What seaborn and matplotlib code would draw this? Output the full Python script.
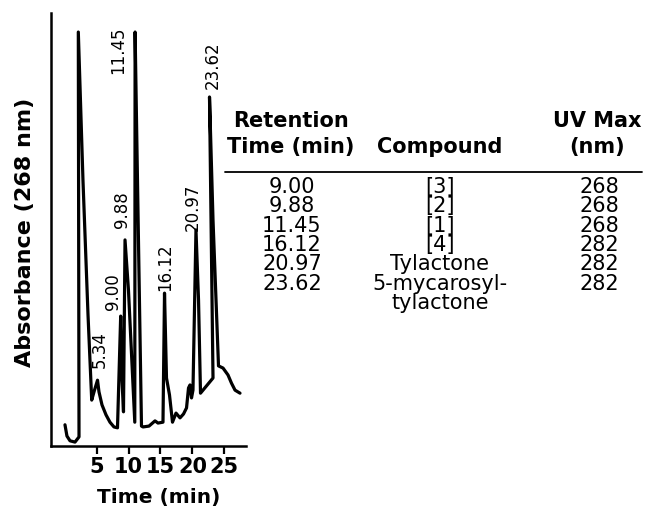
import matplotlib
matplotlib.use('Agg')
import matplotlib.pyplot as plt
from matplotlib.lines import Line2D
import pandas as pd
import seaborn as sns

# HPLC trace (time in min, absorbance in arbitrary units 0-100)
trace_time = [0.03, 0.34, 0.82, 1.60, 2.23, 2.12, 2.85, 3.64, 4.22, 4.58,
              5.13, 5.36, 5.83, 6.46, 7.08, 7.71, 8.26, 8.76, 8.97, 9.20,
              9.44, 9.98, 10.97, 11.02, 11.24, 12.02, 12.26, 13.20, 14.14, 14.61,
              15.39, 15.63, 15.94, 16.41, 16.88, 17.43, 18.06, 18.61, 19.08, 19.39,
              19.62, 19.86, 20.09, 20.56, 20.96, 21.27, 23.23, 22.68, 23.23, 24.09,
              24.80, 25.58, 26.13, 26.68, 27.46]
trace_abs = [4.9, 2.3, 1.2, 0.9, 2.1, 95.6, 61.4, 30.3, 10.6, 12.5,
             15.2, 12.5, 9.5, 7.2, 5.5, 4.4, 4.2, 30.0, 15.2, 7.9,
             47.6, 36.0, 5.5, 95.6, 75.3, 4.6, 4.4, 4.6, 5.8, 5.3,
             5.5, 35.3, 15.7, 11.8, 5.5, 7.6, 6.5, 7.4, 8.8, 13.4,
             14.1, 11.1, 12.9, 49.9, 33.7, 12.2, 15.7, 80.6, 52.2, 18.5,
             18.0, 16.4, 14.5, 12.9, 12.2]

peak_names = ['5.34', '9.00', '9.88', '11.45', '16.12', '20.97', '23.62']

# table
ret_times = ['9.00', '9.88', '11.45', '16.12', '20.97', '23.62']
compounds = ['[3]', '[2]', '[1]', '[4]', 'Tylactone', '5-mycarosyl-\ntylactone']
uv_max = ['268', '268', '268', '282', '282', '282']

sns.set_style('ticks')
plt.rcParams['font.family'] = ['DejaVu Sans']
plt.rcParams['text.color'] = 'black'
plt.rcParams['axes.labelcolor'] = 'black'

W, H = 647, 512
fig = plt.figure(figsize=(W / 100, H / 100), dpi=100)
ax = fig.add_axes([51 / W, 1 - 446 / H, 195 / W, 433 / H])

df = pd.DataFrame({'time': trace_time, 'absorbance': trace_abs})
sns.lineplot(data=df, x='time', y='absorbance', sort=False, estimator=None,
             color='black', lw=2.3, ax=ax)

ax.set_xlim(-2.16, 28.4)
ax.set_ylim(0, 100)
sns.despine(ax=ax)
for s in ['left', 'bottom']:
    ax.spines[s].set_linewidth(1.8)
    ax.spines[s].set_color('black')
ax.set_xticks([5, 10, 15, 20, 25])
ax.set_yticks([])
ax.tick_params(axis='x', direction='out', length=6, width=1.6, labelsize=15,
               pad=2, colors='black')
for t in ax.get_xticklabels():
    t.set_fontweight('bold')

ax.set_xlabel('Time (min)', fontsize=14.5, fontweight='bold', va='center')
ax.xaxis.set_label_coords((159 - 51) / 195, (446 - 497) / 433)
ax.set_ylabel('Absorbance (268 nm)', fontsize=16, fontweight='bold', va='center')
ax.yaxis.set_label_coords((25 - 51) / 195, (446 - 232) / 433)

# peak labels (rotated), placed where they sit in the figure
label_pos = {'5.34': (5.52, 22.2), '9.00': (7.55, 35.6), '9.88': (8.97, 54.5),
             '11.45': (8.34, 91.5), '16.12': (15.71, 41.3), '20.97': (20.09, 55.2),
             '23.62': (23.23, 88.0)}
for name in peak_names:
    x, y = label_pos[name]
    ax.text(x, y, name, rotation=90, ha='center', va='center', fontsize=12)


def fx(px):
    return px / W


def fy(py):
    return 1 - py / H


# table header
hdr = dict(fontsize=15, fontweight='bold', va='center', ha='center')
fig.text(fx(291), fy(121), 'Retention', **hdr)
fig.text(fx(291), fy(147), 'Time (min)', **hdr)
fig.text(fx(440), fy(147), 'Compound', **hdr)
fig.text(fx(597), fy(121), 'UV Max', **hdr)
fig.text(fx(597), fy(147), '(nm)', **hdr)
fig.add_artist(Line2D([fx(225), fx(642)], [fy(172), fy(172)], color='black', lw=1.3))

row0, step = 187, 19.3
for i, (rt, cp, uv) in enumerate(zip(ret_times, compounds, uv_max)):
    y = row0 + i * step
    fig.text(fx(292), fy(y), rt, ha='center', va='center', fontsize=15)
    for k, line in enumerate(cp.split('\n')):
        fig.text(fx(440), fy(y + k * step), line, ha='center', va='center', fontsize=15)
    fig.text(fx(599), fy(y), uv, ha='center', va='center', fontsize=15)

fig.savefig('out.png', dpi=100)
